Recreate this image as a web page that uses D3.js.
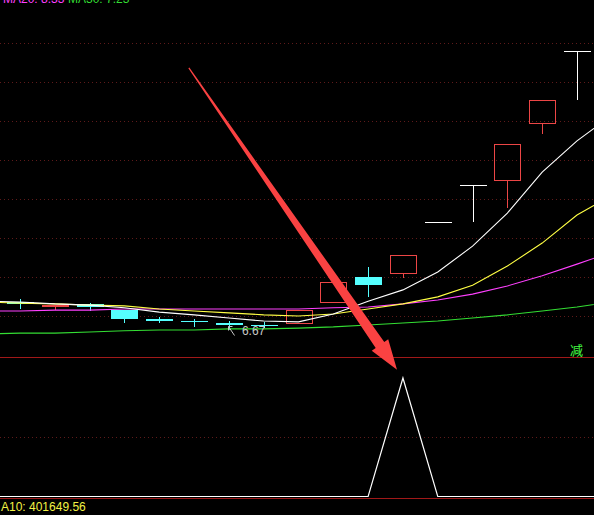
<!DOCTYPE html>
<html>
<head>
<meta charset="utf-8">
<script src="https://cdn.jsdelivr.net/npm/d3@7"></script>
<style>
  html, body { margin: 0; padding: 0; background: #000; }
  svg { display: block; }
</style>
</head>
<body>
<svg id="chart" width="594" height="515"></svg>
<script>
// ---- daily bars ----
const opens  = [7.36, 7.25, 7.31, 7.15, 6.92, 6.87, 6.82, 6.77, 6.82, 7.36, 8.00, 8.10, 9.42, 10.36, 10.49, 11.95, 13.79];
const highs  = [7.44, 7.29, 7.33, 7.15, 6.97, 6.92, 6.87, 6.85, 7.15, 7.87, 8.26, 8.56, 9.42, 10.36, 11.40, 12.54, 13.79];
const lows   = [7.21, 7.15, 7.15, 6.85, 6.85, 6.74, 6.67, 6.72, 6.82, 7.36, 7.51, 7.97, 9.42, 9.44, 9.77, 11.67, 12.56];
const closes = [7.31, 7.28, 7.23, 6.92, 6.88, 6.84, 6.78, 6.74, 7.15, 7.87, 7.80, 8.56, 9.42, 10.36, 11.40, 12.54, 13.79];

// ---- moving averages (one bar before and one after the visible bars) ----
const ma5  = [7.38, 7.36, 7.31, 7.28, 7.21, 7.10, 7.03, 6.95, 6.87, 6.85, 7.05, 7.38, 7.67, 8.13, 8.79, 9.64, 10.69, 11.49, 12.15];
const ma10 = [7.36, 7.33, 7.31, 7.28, 7.26, 7.18, 7.13, 7.08, 7.03, 7.00, 7.05, 7.18, 7.31, 7.49, 7.79, 8.28, 8.87, 9.59, 10.10];
const ma20 = [7.13, 7.13, 7.15, 7.15, 7.18, 7.18, 7.18, 7.18, 7.18, 7.18, 7.21, 7.23, 7.31, 7.41, 7.56, 7.77, 8.03, 8.33, 8.64];
const ma30 = [6.54, 6.56, 6.56, 6.59, 6.62, 6.64, 6.64, 6.67, 6.67, 6.69, 6.72, 6.77, 6.82, 6.87, 6.95, 7.03, 7.13, 7.23, 7.36];

// ---- signal indicator (same bars as the averages) ----
const signal = [0, 0, 0, 0, 0, 0, 0, 0, 0, 0, 0, 0, 1, 0, 0, 0, 0, 0, 0];

// ---- grid levels ----
const priceGrid = [7, 8, 9, 10, 11, 12, 13, 14];
const signalGrid = [0.5];

// ---- labels ----
const lowPrice = 6.67;
const lowBar = 6;
const a10Value = "401649.56";

const W = 594, H = 515;
const RED = "#ec4646", CYAN = "#55ffff", WHITE = "#ffffff";
const GRID = "#5e1a1a";

const svg = d3.select("#chart");
svg.append("rect").attr("width", W).attr("height", H).attr("fill", "#000");

const x = d3.scaleLinear().domain([0, 16]).range([20, 577]);
const y = d3.scaleLinear().domain([6, 15]).range([355, 4]);
const yInd = d3.scaleLinear().domain([0, 1]).range([496.5, 378]);
const crisp = v => Math.round(v) + 0.5;

// dotted grid
svg.append("g").selectAll("line").data(priceGrid).join("line")
  .attr("x1", 0).attr("x2", W)
  .attr("y1", d => crisp(y(d))).attr("y2", d => crisp(y(d)))
  .attr("stroke", GRID).attr("stroke-dasharray", "1,3");
svg.append("g").selectAll("line").data(signalGrid).join("line")
  .attr("x1", 0).attr("x2", W)
  .attr("y1", d => crisp(yInd(d))).attr("y2", d => crisp(yInd(d)))
  .attr("stroke", GRID).attr("stroke-dasharray", "1,3");

// panel borders
svg.append("line").attr("x1", 0).attr("x2", W).attr("y1", 357.5).attr("y2", 357.5)
  .attr("stroke", "#a01818");
svg.append("line").attr("x1", 0).attr("x2", W).attr("y1", 498.5).attr("y2", 498.5)
  .attr("stroke", "#a01818");

// candles
const bars = opens.map((o, i) => ({ i, o, h: highs[i], l: lows[i], c: closes[i] }));
const gC = svg.append("g").attr("shape-rendering", "crispEdges");
bars.forEach(d => {
  const px = Math.round(x(d.i));
  const yTop = Math.round(y(Math.max(d.o, d.c)));
  const yBot = Math.round(y(Math.min(d.o, d.c)));
  const yH = Math.round(y(d.h)), yL = Math.round(y(d.l));
  if (d.c > d.o) {
    gC.append("rect").attr("x", px - 13 + 0.5).attr("y", yTop + 0.5)
      .attr("width", 26).attr("height", Math.max(1, yBot - yTop))
      .attr("fill", "none").attr("stroke", RED);
    if (yH < yTop) gC.append("line").attr("x1", px + 0.5).attr("x2", px + 0.5)
      .attr("y1", yH).attr("y2", yTop).attr("stroke", RED);
    if (yL > yBot) gC.append("line").attr("x1", px + 0.5).attr("x2", px + 0.5)
      .attr("y1", yBot + 1).attr("y2", yL).attr("stroke", RED);
  } else {
    const col = d.c < d.o ? CYAN : WHITE;
    gC.append("line").attr("x1", px + 0.5).attr("x2", px + 0.5)
      .attr("y1", yH).attr("y2", yL + 1).attr("stroke", col);
    gC.append("rect").attr("x", px - 13).attr("y", yTop)
      .attr("width", 27).attr("height", Math.max(1, yBot - yTop))
      .attr("fill", col);
  }
});

// moving averages
const maLine = d3.line().x((d, i) => x(i - 1)).y(d => y(d));
[[ma30, "#33dd33"], [ma20, "#ff40ff"], [ma10, "#ffff44"], [ma5, WHITE]].forEach(([s, col]) => {
  svg.append("path").attr("d", maLine(s)).attr("fill", "none")
    .attr("stroke", col).attr("stroke-width", 1.1);
});

// lowest price marker
const lx = x(lowBar), ly = y(lowPrice);
const tip = [Math.round(lx) - 0.5, Math.round(ly) - 2.5];
svg.append("path")
  .attr("d", `M${tip[0] + 6},${tip[1] + 9}L${tip[0]},${tip[1]}M${tip[0]},${tip[1]}L${tip[0]},${tip[1] + 4}M${tip[0]},${tip[1]}L${tip[0] + 4},${tip[1]}`)
  .attr("stroke", "#c8c8c8").attr("fill", "none");
svg.append("text").attr("x", lx + 13).attr("y", ly + 6.5)
  .attr("font-family", "Liberation Sans, Arial, sans-serif").attr("font-size", 12)
  .attr("fill", "#c8c8c8").text(lowPrice.toFixed(2));

// signal line
const sigLine = d3.line().x((d, i) => x(i - 1)).y(d => yInd(d));
svg.append("path").attr("d", sigLine(signal)).attr("fill", "none")
  .attr("stroke", WHITE).attr("stroke-width", 1.2);

// header and footer texts
svg.append("text").attr("x", 3).attr("y", 3)
  .attr("font-family", "Liberation Sans, Arial, sans-serif").attr("font-size", 12)
  .attr("fill", "#ff40ff").text("MA20: " + ma20[17].toFixed(2));
svg.append("text").attr("x", 68).attr("y", 3)
  .attr("font-family", "Liberation Sans, Arial, sans-serif").attr("font-size", 12)
  .attr("fill", "#33dd33").text("MA30: " + ma30[17].toFixed(2));
svg.append("text").attr("x", 1).attr("y", 510.5)
  .attr("font-family", "Liberation Sans, Arial, sans-serif").attr("font-size", 12)
  .attr("fill", "#f2f244").text("A10: " + a10Value);
svg.append("text").attr("x", 570).attr("y", 355)
  .attr("font-family", "Noto Sans CJK SC, sans-serif").attr("font-size", 13)
  .attr("fill", "#44ff44").text("减");

// pointer arrow toward the signal peak
const arrowFrom = [4.85, 13.36];   // bar index, price
const arrowTo = [10.83, 1.07];     // bar index, signal value
const p0 = [x(arrowFrom[0]), y(arrowFrom[1])];
const p1 = [x(arrowTo[0]), yInd(arrowTo[1])];
const dx = p1[0] - p0[0], dy = p1[1] - p0[1];
const len = Math.hypot(dx, dy);
const u = [dx / len, dy / len], n = [-u[1], u[0]];
const headLen = 30, headHalf = 10, w0 = 0.6, w1 = 5.2;
const base = [p1[0] - u[0] * headLen, p1[1] - u[1] * headLen];
const pt = (p, k) => [p[0] + n[0] * k, p[1] + n[1] * k];
const poly = [pt(p0, w0), pt(base, w1), pt(base, headHalf), p1, pt(base, -headHalf), pt(base, -w1), pt(p0, -w0)];
svg.append("polygon").attr("points", poly.map(p => p.join(",")).join(" "))
  .attr("fill", "#fa4242");
</script>
</body>
</html>
